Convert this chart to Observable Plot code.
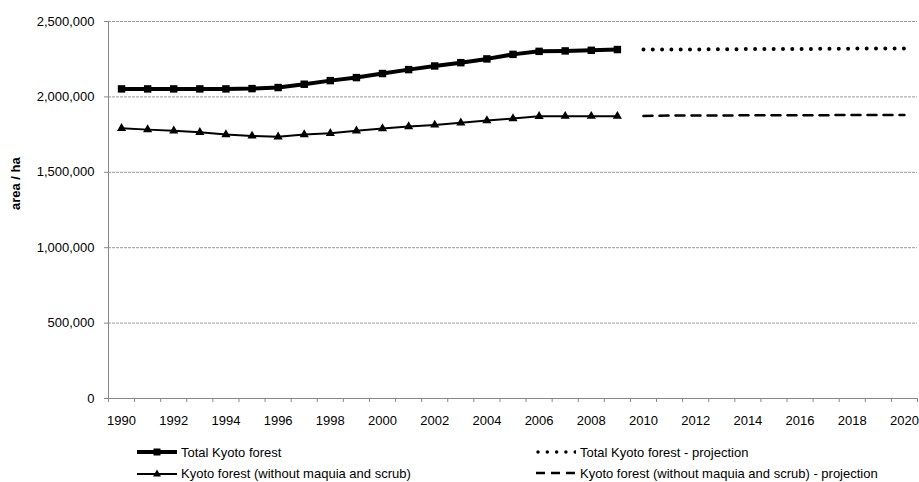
<!DOCTYPE html>
<html><head><meta charset="utf-8">
<script src="https://cdn.jsdelivr.net/npm/d3@7"></script>
<script src="https://cdn.jsdelivr.net/npm/@observablehq/plot@0.6"></script>
<style>
body{margin:0;background:#fff;font-family:"Liberation Sans",Arial,sans-serif;}
#wrap{position:relative;width:919px;height:482px;overflow:hidden;background:#fff;}
#wrap svg.plot{display:block;}
.leg{position:absolute;font-size:13px;display:flex;align-items:center;white-space:nowrap;height:16px;color:#000;}
.leg svg{margin-right:4px;}
</style></head><body><div id="wrap"></div>
<script>
// Categories
const years = [1990,1991,1992,1993,1994,1995,1996,1997,1998,1999,2000,2001,2002,2003,2004,2005,2006,2007,2008,2009];
const projYears = [2010,2011,2012,2013,2014,2015,2016,2017,2018,2019,2020];
// Series values (ha)
const totalKyoto = [2053000,2053000,2053000,2053000,2053000,2055000,2062000,2084000,2108000,2128000,2155000,2181000,2205000,2227000,2252000,2282000,2302000,2305000,2309000,2314000];
const kyotoNoMaquia = [1792000,1783000,1775000,1765000,1750000,1741000,1735000,1750000,1759000,1775000,1790000,1803000,1814000,1828000,1843000,1856000,1871000,1872000,1872000,1872000];
const totalProj = [2314000,2315000,2315000,2316000,2317000,2318000,2318000,2319000,2320000,2321000,2321000];
const noMaquiaProj = [1874000,1876000,1877000,1877000,1878000,1878000,1879000,1879000,1880000,1880000,1880000];
// Tick labels
const yTicks = [0,500000,1000000,1500000,2000000,2500000];
const xLabels = [1990,1992,1994,1996,1998,2000,2002,2004,2006,2008,2010,2012,2014,2016,2018,2020];
const xBoundaries = [1989.5,1990.5,1991.5,1992.5,1993.5,1994.5,1995.5,1996.5,1997.5,1998.5,1999.5,2000.5,2001.5,2002.5,2003.5,2004.5,2005.5,2006.5,2007.5,2008.5,2009.5,2010.5,2011.5,2012.5,2013.5,2014.5,2015.5,2016.5,2017.5,2018.5,2019.5,2020.5];
const seriesNames = ["Total Kyoto forest","Kyoto forest (without maquia and scrub)","Total Kyoto forest - projection","Kyoto forest (without maquia and scrub) - projection"];

const hist = years.map((y,i)=>({year:y,total:totalKyoto[i],nomaq:kyotoNoMaquia[i]}));
const proj = projYears.map((y,i)=>({year:y,total:totalProj[i],nomaq:noMaquiaProj[i]}));

const chart = Plot.plot({
  width: 919,
  height: 440,
  marginLeft: 108,
  marginRight: 2,
  marginTop: 21,
  marginBottom: 42,
  style: {fontFamily: "Liberation Sans, Arial, sans-serif", fontSize: "13px", color: "#000", background: "#fff"},
  x: {type: "linear", domain: [1989.5, 2020.5]},
  y: {domain: [0, 2500000]},
  marks: [
    Plot.gridY(yTicks.filter(d=>d>0), {stroke: "#999", strokeOpacity: 1, strokeDasharray: "3 1"}),
    Plot.ruleY([0], {stroke: "#888"}),
    Plot.ruleX([1989.5], {stroke: "#888"}),
    Plot.axisY({ticks: yTicks, tickFormat: d3.format(","), tickSize: 4, tickPadding: 10, stroke: "#888", fill: "#000", label: null}),
    Plot.axisX({ticks: xBoundaries, tickSize: 4, tickFormat: () => "", stroke: "#888", label: null}),
    Plot.axisX({ticks: xLabels, tickSize: 0, tickPadding: 17, tickFormat: d => String(d), fill: "#000", label: null}),
    Plot.text(["area / ha"], {frameAnchor: "left", rotate: -90, dx: -93, fontWeight: "bold", fontSize: 13, fill: "#000"}),
    Plot.line(hist, {x: "year", y: "total", stroke: "#000", strokeWidth: 4}),
    Plot.dot(hist, {x: "year", y: "total", symbol: "square", r: 4.2, fill: "#000", stroke: null}),
    Plot.line(hist, {x: "year", y: "nomaq", stroke: "#000", strokeWidth: 2}),
    Plot.dot(hist, {x: "year", y: "nomaq", symbol: "triangle", r: 3.4, fill: "#000", stroke: null}),
    Plot.line(proj, {x: "year", y: "total", stroke: "#000", strokeWidth: 4, strokeDasharray: "0 9.3", strokeLinecap: "round"}),
    Plot.line(proj, {x: "year", y: "nomaq", stroke: "#000", strokeWidth: 2.5, strokeDasharray: "9 7"})
  ]
});
chart.classList.add("plot");
const wrap = document.getElementById("wrap");
wrap.appendChild(chart);

const swatches = [
  '<svg width="40" height="10"><line x1="0" y1="5" x2="40" y2="5" stroke="#000" stroke-width="4"/><rect x="16.5" y="1.5" width="7" height="7" fill="#000"/></svg>',
  '<svg width="40" height="10"><line x1="0" y1="6" x2="40" y2="6" stroke="#000" stroke-width="2"/><polygon points="20,1.5 24,8.5 16,8.5" fill="#000"/></svg>',
  '<svg width="40" height="10"><line x1="2" y1="5" x2="40" y2="5" stroke="#000" stroke-width="3.5" stroke-dasharray="0 9.3" stroke-linecap="round"/></svg>',
  '<svg width="40" height="10"><line x1="0" y1="5" x2="40" y2="5" stroke="#000" stroke-width="2.5" stroke-dasharray="9 6"/></svg>'
];
const legPos = [[137,452],[137,473],[536,452],[536,473]];
seriesNames.forEach((name,i)=>{
  const d = document.createElement("div");
  d.className = "leg";
  d.style.left = legPos[i][0] + "px";
  d.style.top = (legPos[i][1] - 8) + "px";
  d.innerHTML = swatches[i] + "<span>" + name + "</span>";
  wrap.appendChild(d);
});
</script>
</body></html>
